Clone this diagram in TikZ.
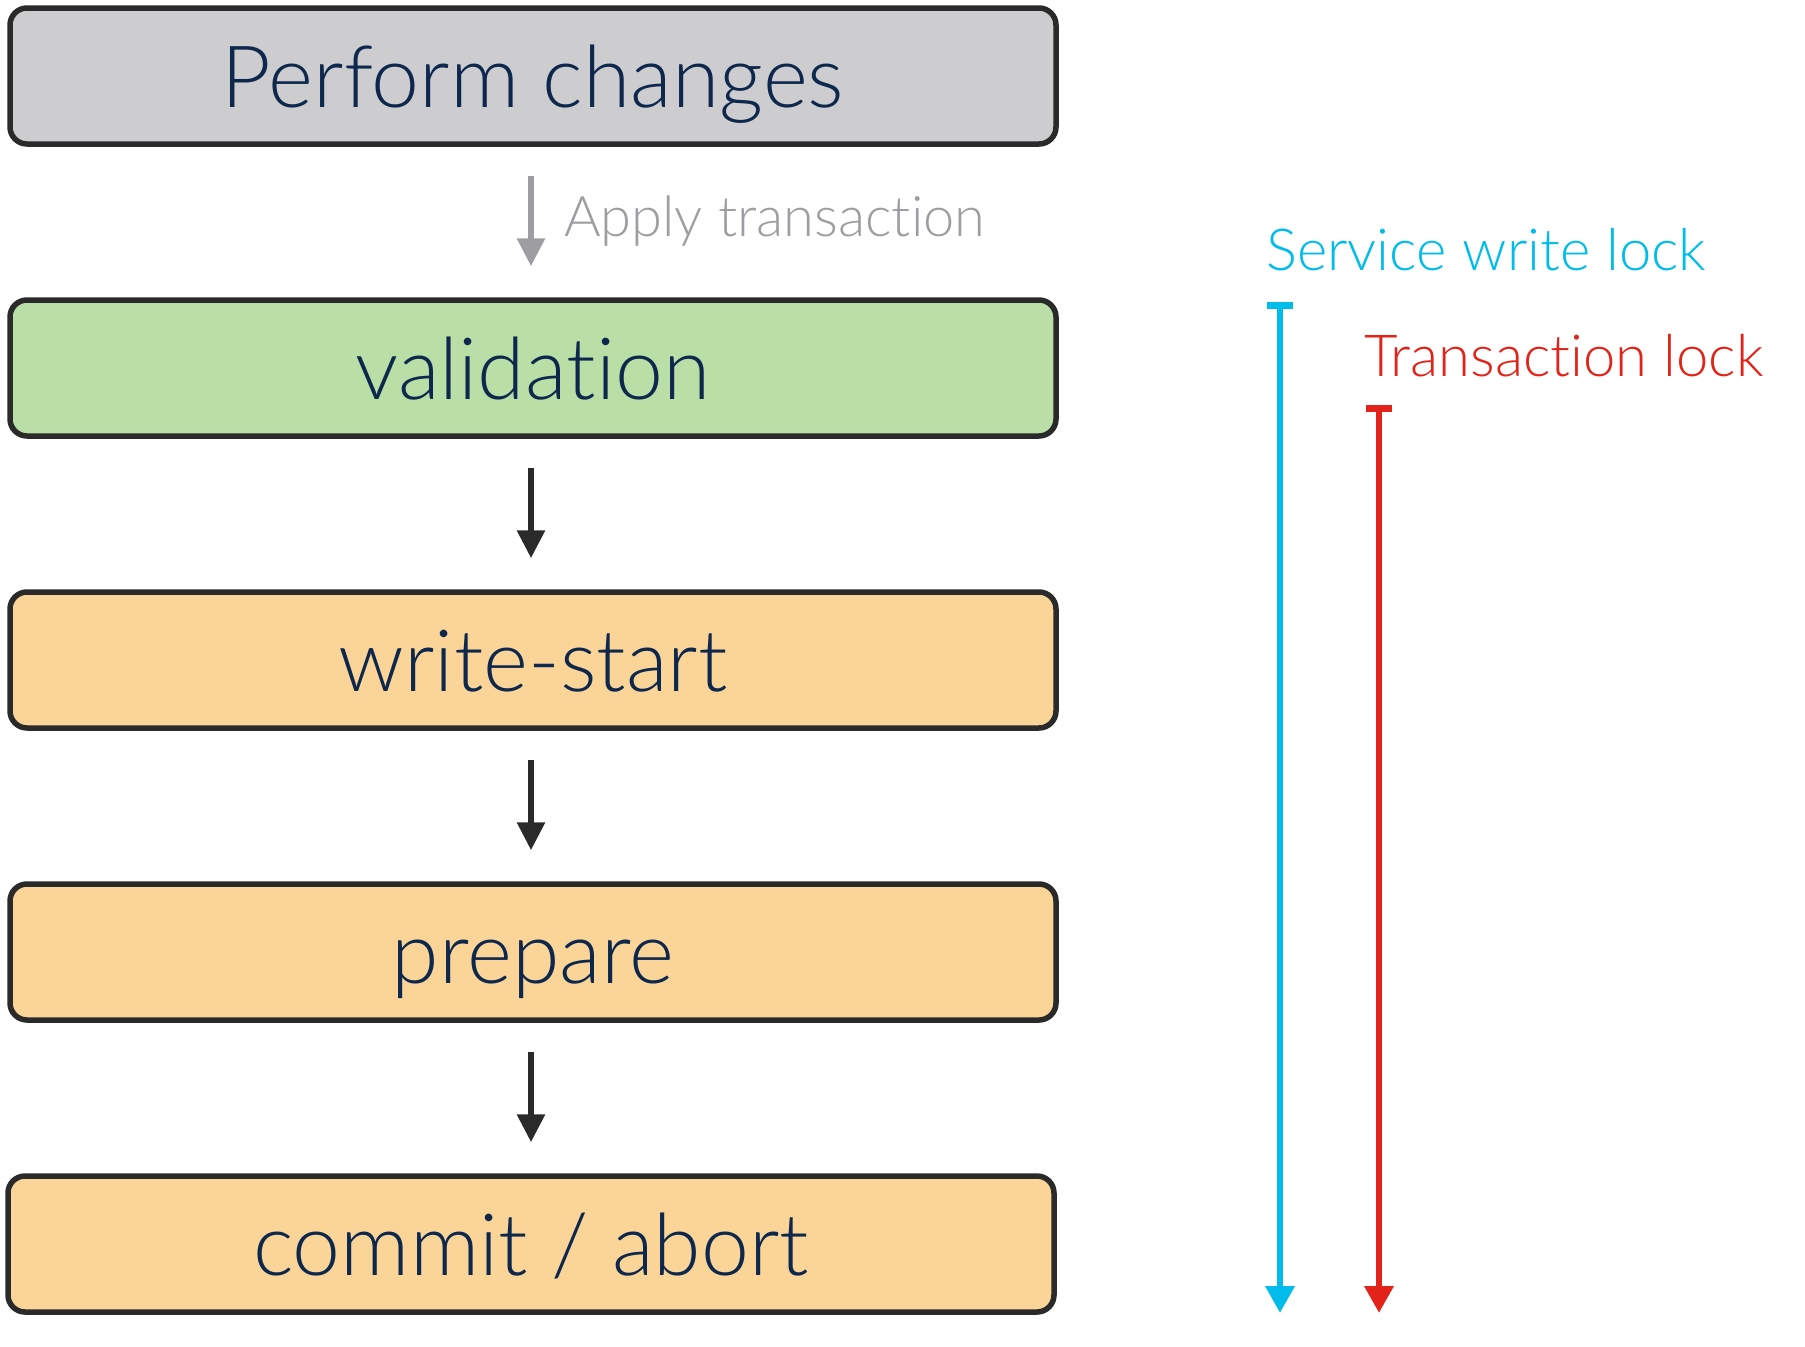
\documentclass[tikz,border=0pt]{standalone}
\usepackage{fontspec}
\setmainfont{Lato}[UprightFont=* Light, Ligatures=NoCommon]
\usetikzlibrary{arrows.meta}
\definecolor{navy}{HTML}{0D274D}
\definecolor{boxgray}{HTML}{CDCDD0}
\definecolor{boxgreen}{HTML}{BADFA6}
\definecolor{boxorange}{HTML}{FBD598}
\definecolor{edge}{HTML}{2A2A2A}
\definecolor{lockblue}{HTML}{00BCEB}
\definecolor{lockred}{HTML}{E2231A}
\definecolor{applygray}{HTML}{9E9EA2}
\tikzset{
  stage/.style={draw=edge, line width=5.5pt, rounded corners=17pt, minimum width=1046pt, minimum height=136pt, inner sep=0pt, text height=62pt, text depth=0pt, text=navy, font=\fontsize{86}{100}\selectfont},
  flow/.style={draw=edge, line width=6pt, -{Triangle[width=27pt,length=28pt]}, shorten <=29pt, shorten >=31pt},
  lock/.style={line width=6.5pt},
  locklabel/.style={anchor=west, inner sep=0pt, font=\fontsize{58}{68}\selectfont}
}
\begin{document}
\begin{tikzpicture}[x=1pt,y=-1pt]
\useasboundingbox (0,0) rectangle (1805,1347);
\node[stage, fill=boxgray] (perform) at (533,76) {Perform changes};
\node[stage, fill=boxgreen] (valid) at (533,368) {validation};
\node[stage, fill=boxorange] (wstart) at (533,660) {write-start};
\node[stage, fill=boxorange] (prep) at (533,952) {prepare};
\node[stage, fill=boxorange] (commit) at (531,1244) {commit / abort};
\draw[flow, draw=applygray, -{Triangle[width=27pt,length=28pt,fill=applygray]}] (perform.south -| 531,0) -- (valid.north -| 531,0);
\draw[flow] (valid.south -| 531,0) -- (wstart.north -| 531,0);
\draw[flow] (wstart.south -| 531,0) -- (prep.north -| 531,0);
\draw[flow] (prep.south -| 531,0) -- (commit.north -| 531,0);
\node[anchor=west, inner sep=0pt, text=applygray, font=\fontsize{56}{66}\selectfont] (apply) at (564,221) {Apply transaction};
\node[locklabel, text=lockblue] (swl) at (1266,250) {Service write lock};
\node[locklabel, text=lockred] (tl) at (1364,356) {Transaction lock};
\coordinate (bs) at (1280,302);
\coordinate (be) at (1280,1313);
\coordinate (rs) at (1379,405);
\coordinate (re) at (1379,1313);
\draw[lock, draw=lockblue, {Bar[width=26pt]}-{Triangle[width=28pt,length=27pt,fill=lockblue]}] (bs) -- (be);
\draw[lock, draw=lockred, {Bar[width=26pt]}-{Triangle[width=28pt,length=27pt,fill=lockred]}] (rs) -- (re);
\end{tikzpicture}
\end{document}
